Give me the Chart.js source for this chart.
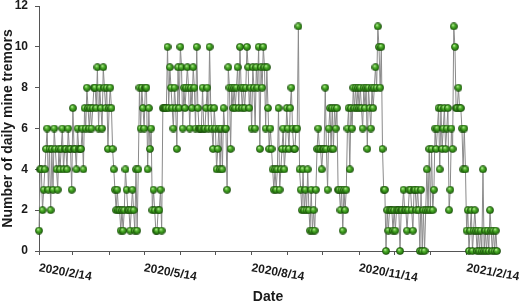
<!DOCTYPE html>
<html>
<head>
<meta charset="utf-8">
<script src="https://cdn.jsdelivr.net/npm/chart.js@4/dist/chart.umd.min.js"></script>
<style>
  html, body { margin: 0; padding: 0; background: #fff; }
  #wrap { width: 526px; height: 308px; position: relative; }
</style>
</head>
<body>
<div id="wrap"><canvas id="tremor-chart"></canvas></div>
<script>
// daily tremor counts, one value per day starting 2020/2/14
const startDate = '2020/2/14';
const tremors = [
  1,4,4,2,3,4,5,6,3,5, 2,5,3,6,5,4,3,5,4,5, 6,4,5,5,4,6,5,5,3,7,
  5,5,4,6,5,5,5,6,4,7, 6,8,7,6,7,
  6,7,8,8,7,9,6,8,7,6, 9,8,7,8,5,7,8,7,5,4, 3,2,3,2,2,1,2,1,2,4,
  3,2,2,1,2,3,2,1,4,
  1,4,8,6,8,7,6,8,8,4, 7,5,6,2,3,2,1,1,2,2, 3,1,
  7,7,7,7,10,7,9,8,7,6, 8,7,5,9,7,10,9,6,8,7, 8,9,8,6,8,7,9,8,6,10,
  7,6,6,6,8,6,6,7,8,6, 10,7,6,5,7,6,4,5,6,4, 6,4,7,6,6,3,9,8,5,8,
  7,8,7,8,9,7,10,8,7,8, 7,8,10,9,7,8,6,9,
  8,6,9,8,10,5,9,8,10,9, 6,9,7,5,6,5,4,3,4,3, 4,7,3,4,5,6,4,5,7,6,
  5,7,8,6,5,5,6,6,11,4, 3,2,4,2,3,2,4,2,1,
  3,1,2,1,3,5,6,5,5,4, 5,5,8,5,3,6,7,5,7,5, 7,6,7,3,3,2,3,1,3,2,
  3,6,7,4,7,6,8,7,8,7, 8,7,8,7,6,8,7,
  8,5,8,7,6,8,7,8,9,8, 11,10,8,10,5,3,3,0,2,1, 2,2,2,1,2,1,2,2,2,0,
  2,2,3,2,2,1,2,3,3,2, 1,3,3,2,3,2,0,
  3,0,2,0,2,4,2,5,2,5, 2,3,6,5,6,7,4,7,5,6, 7,5,6,7,2,3,6,5,11,10,
  7,7,8,7,7,6,4,6,4,1, 2,0,1,2,0,1,2,1,0,1, 0,1,0,4,0,1,0,1,0,2,
  1,0,1,0,1,0
];

// x ticks, in days after startDate (monthly, labelled every 3 months)
const tickDays = [0, 29, 60, 90, 121, 151, 182, 213, 243, 274, 304, 335, 366];
const tickLabels = ['2020/2/14', '', '', '2020/5/14', '', '', '2020/8/14', '', '', '2020/11/14', '', '', '2021/2/14'];
const yTicks = [0, 2, 4, 6, 8, 10, 12];

// shaded green ball used as the marker
function makeBall(size) {
  const c = document.createElement('canvas');
  c.width = size;
  c.height = size;
  const g = c.getContext('2d');
  const r = size / 2;
  const grad = g.createRadialGradient(r * 0.75, r * 0.65, 0.3, r, r, r);
  grad.addColorStop(0, '#b9ee9a');
  grad.addColorStop(0.35, '#4fb02c');
  grad.addColorStop(0.8, '#25780f');
  grad.addColorStop(1, '#164d07');
  g.fillStyle = grad;
  g.beginPath();
  g.arc(r, r, r - 0.4, 0, Math.PI * 2);
  g.fill();
  g.strokeStyle = '#1b4a0c';
  g.lineWidth = 0.6;
  g.stroke();
  return c;
}
const ball = makeBall(8);

const labelFont = 'bold 12px "Liberation Sans", Arial, sans-serif';

// date labels are slanted and start at their tick
const slantedLabels = {
  id: 'slantedLabels',
  afterDraw(chart) {
    const xs = chart.scales.x;
    const ctx = chart.ctx;
    ctx.save();
    ctx.font = labelFont;
    ctx.fillStyle = '#1a1a1a';
    ctx.textAlign = 'left';
    ctx.textBaseline = 'top';
    tickDays.forEach((d, i) => {
      if (!tickLabels[i]) return;
      ctx.save();
      ctx.translate(xs.getPixelForValue(d) + 1, xs.top + 11);
      ctx.rotate(10 * Math.PI / 180);
      ctx.fillText(tickLabels[i], 0, 0);
      ctx.restore();
    });
    ctx.restore();
  }
};

new Chart(document.getElementById('tremor-chart'), {
  type: 'line',
  data: {
    datasets: [{
      label: 'Daily mine tremors since ' + startDate,
      data: tremors.map((v, i) => ({x: i, y: v})),
      borderColor: '#8a8a8a',
      borderWidth: 1,
      pointStyle: ball,
      pointRadius: 4,
      tension: 0,
      clip: false
    }]
  },
  options: {
    responsive: true,
    maintainAspectRatio: false,
    animation: false,
    layout: { padding: { top: 0, right: 29, left: 0, bottom: 0 } },
    plugins: {
      legend: { display: false },
      tooltip: { enabled: false }
    },
    scales: {
      x: {
        type: 'linear',
        min: 0,
        max: tremors.length - 1,
        afterBuildTicks: scale => { scale.ticks = tickDays.map(d => ({value: d})); },
        afterFit: scale => { scale.height = 57; scale.paddingLeft = 0; },
        ticks: {
          autoSkip: false,
          maxRotation: 0,
          color: 'rgba(0,0,0,0)',
          font: { family: '"Liberation Sans", Arial, sans-serif', size: 12, weight: 'bold' },
          callback: v => tickLabels[tickDays.indexOf(v)] || ''
        },
        grid: { drawOnChartArea: false, tickLength: 4, tickColor: '#555' },
        border: { color: '#555', width: 1 },
        title: {
          display: true,
          text: 'Date',
          color: '#1a1a1a',
          font: { family: '"Liberation Sans", Arial, sans-serif', size: 14, weight: 'bold' },
          padding: { top: 0, bottom: 2 }
        }
      },
      y: {
        min: 0,
        max: 12,
        afterBuildTicks: scale => { scale.ticks = yTicks.map(v => ({value: v})); },
        afterFit: scale => { scale.width = 39; scale.paddingTop = 6; },
        ticks: {
          color: '#1a1a1a',
          padding: 7,
          font: { family: '"Liberation Sans", Arial, sans-serif', size: 12, weight: 'bold' }
        },
        grid: { drawOnChartArea: false, tickLength: 4, tickColor: '#555' },
        border: { color: '#555', width: 1 },
        title: {
          display: true,
          text: 'Number of daily mine tremors',
          color: '#1a1a1a',
          font: { family: '"Liberation Sans", Arial, sans-serif', size: 14, weight: 'bold', lineHeight: 1.1 },
          padding: 0
        }
      }
    }
  },
  plugins: [slantedLabels]
});
</script>
</body>
</html>
